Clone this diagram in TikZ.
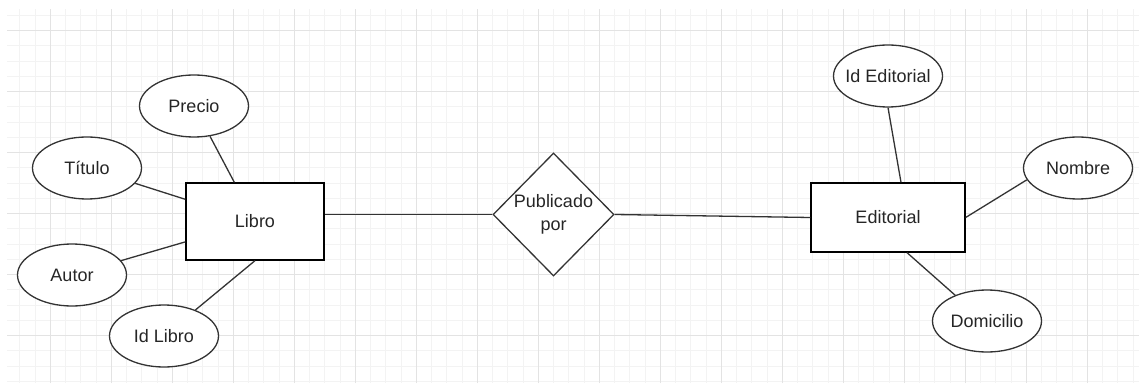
\documentclass[tikz,border=0pt]{standalone}
\usepackage{fontspec}
\setmainfont{Liberation Sans}
\usepackage{tikz}
\usetikzlibrary{shapes,arrows}
\usetikzlibrary{shapes.geometric,positioning,calc}

\definecolor{lineGray}{HTML}{333333}
\definecolor{gridMajor}{HTML}{E3E3E3}
\definecolor{gridMinor}{HTML}{F3F3F3}

\begin{document}
\begin{tikzpicture}[x=1pt,y=1pt]

\tikzstyle{entity} = [draw=black, line width=1.3pt, fill=white, rectangle, inner sep=0pt, font={\fontsize{18}{22}\selectfont}, text=black!85];
\tikzstyle{attr} = [draw=lineGray, line width=1.3pt, fill=white, ellipse, minimum width=109pt, minimum height=62pt, inner sep=-8pt, font={\fontsize{18}{22}\selectfont}, text=black!85];
\tikzstyle{relation} = [draw=lineGray, line width=1.3pt, fill=white, diamond, minimum width=121pt, minimum height=123pt, inner sep=0pt, align=center, font={\fontsize{18}{23}\selectfont}, text=black!85];
\tikzstyle{attrEdge} = [lineGray, line width=1.3pt];
\tikzstyle{relEdge} = [lineGray, line width=1.3pt];
\tikzstyle{minorLine} = [gridMinor, line width=0.9pt];
\tikzstyle{majorLine} = [gridMajor, line width=1pt];

\useasboundingbox (0,0) rectangle (1139,383);
\fill[white] (0,0) rectangle (1139,383);

% grid
\begin{scope}
\clip (7,0) rectangle (1139,374);
\foreach \j in {-2,...,71} \draw[minorLine] ({50.3+15.25*\j},0) -- ({50.3+15.25*\j},374);
\foreach \j in {-1,...,24} \draw[minorLine] (7,{352.5-15.25*\j}) -- (1139,{352.5-15.25*\j});
\foreach \k in {0,...,17} \draw[majorLine] ({50.3+61*\k},0) -- ({50.3+61*\k},374);
\foreach \k in {0,...,5} \draw[majorLine] (7,{352.5-61*\k}) -- (1139,{352.5-61*\k});
\end{scope}

\node[entity, name=libro, minimum width=138pt, minimum height=77pt] at (255,161.5) {Libro};
\node[attr, name=precio, node distance=115.5pt, above of=libro, xshift=-61pt] {Precio};
\node[attr, name=titulo, node distance=168pt, left of=libro, yshift=53.5pt] {Título};
\node[attr, name=autor, node distance=183pt, left of=libro, yshift=-53.5pt] {Autor};
\node[attr, name=idlibro, node distance=114.5pt, below of=libro, xshift=-91pt] {Id Libro};
\node[relation, name=rel, node distance=298.5pt, right of=libro, yshift=7pt] {Publicado\\por};
\node[entity, name=edit, minimum width=154pt, minimum height=69pt, node distance=334.5pt, right of=rel, yshift=-3pt] {Editorial};
\node[attr, name=idedit, node distance=141.5pt, above of=edit] {Id Editorial};
\node[attr, name=nombre, node distance=190pt, right of=edit, yshift=49.5pt] {Nombre};
\node[attr, name=domicilio, node distance=99pt, right of=edit, yshift=-103.5pt] {Domicilio};

\draw (precio) edge[attrEdge] (libro);
\draw (titulo) edge[attrEdge] (libro);
\draw (autor) edge[attrEdge] (libro);
\draw (idlibro) edge[attrEdge] (libro.south);
\draw (rel.west) edge[relEdge] (rel.west -| libro.east);
\draw (rel.east) edge[relEdge] (edit.west);
\draw (idedit.south) edge[attrEdge] ([xshift=13pt]edit.north);
\draw (nombre.193) edge[attrEdge] (edit.east);
\draw (domicilio.141) edge[attrEdge] ([xshift=19pt]edit.south);
\end{tikzpicture}
\end{document}
